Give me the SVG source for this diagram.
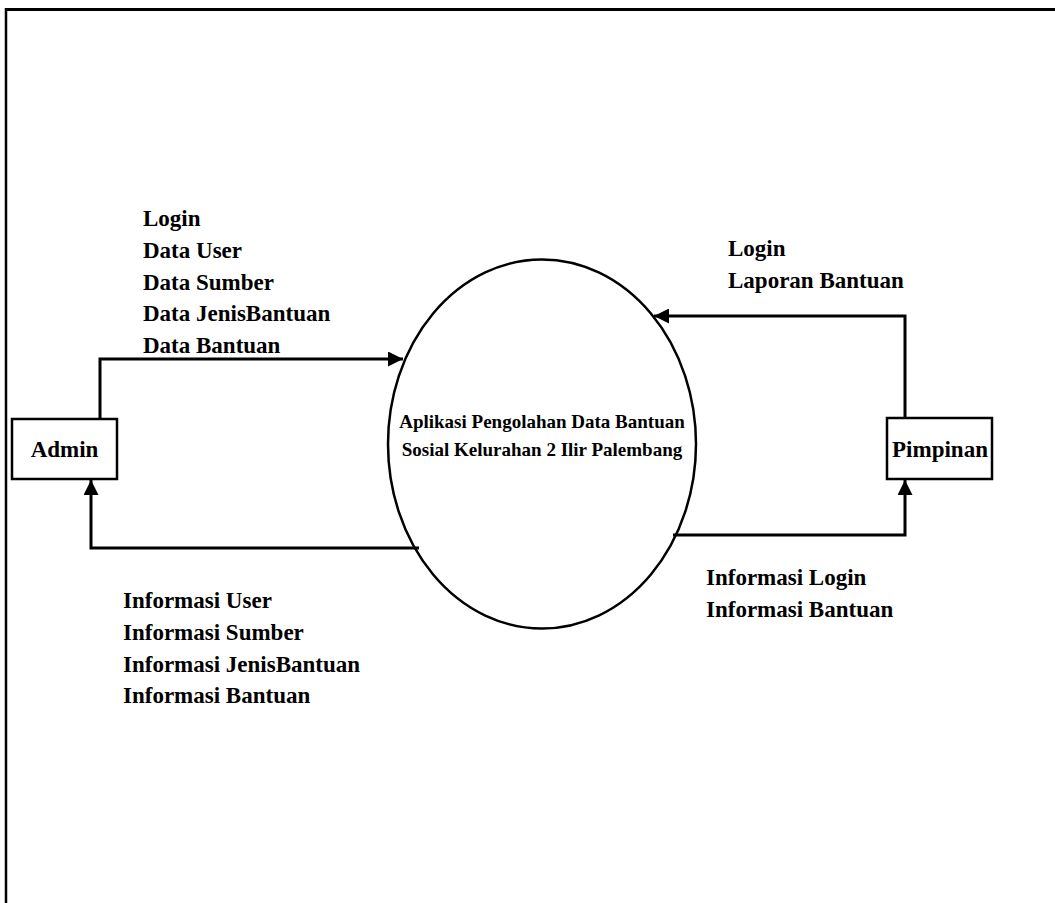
<svg xmlns="http://www.w3.org/2000/svg" width="1055" height="903" viewBox="0 0 1055 903">
<style>
.t{font-family:"Liberation Serif","Times New Roman",serif;font-weight:bold;fill:#000}
.lbl{font-size:23px}
.ctr{font-size:19px}
.box{fill:#fff;stroke:#000;stroke-width:2.5}
.con{fill:none;stroke:#000;stroke-width:3}
</style>
<defs>
<marker id="arr" viewBox="0 0 10 10" refX="10" refY="5" markerWidth="5.3" markerHeight="5" markerUnits="strokeWidth" orient="auto">
<path d="M0,0 L10,5 L0,10 z" fill="#000"/>
</marker>
</defs>
<rect width="1055" height="903" fill="#fff"/>
<g id="frame">
<line x1="6" y1="9.5" x2="1055" y2="9.5" stroke="#000" stroke-width="3"/>
<line x1="6" y1="8" x2="6" y2="903" stroke="#000" stroke-width="2.5"/>
</g>
<g id="connectors">
<polyline class="con" points="100,419 100,359 403,359" marker-end="url(#arr)"/>
<polyline class="con" points="419,548 91,548 91,480" marker-end="url(#arr)"/>
<polyline class="con" points="905,418 905,316 654,316" marker-end="url(#arr)"/>
<polyline class="con" points="673,535 905,535 905,480" marker-end="url(#arr)"/>
</g>
<g id="labels">
<text class="t lbl" x="143" y="226">Login</text>
<text class="t lbl" x="143" y="258">Data User</text>
<text class="t lbl" x="143" y="290">Data Sumber</text>
<text class="t lbl" x="143" y="321">Data JenisBantuan</text>
<text class="t lbl" x="143" y="353">Data Bantuan</text>
<text class="t lbl" x="123" y="608">Informasi User</text>
<text class="t lbl" x="123" y="640">Informasi Sumber</text>
<text class="t lbl" x="123" y="672">Informasi JenisBantuan</text>
<text class="t lbl" x="123" y="703">Informasi Bantuan</text>
<text class="t lbl" x="728" y="256">Login</text>
<text class="t lbl" x="728" y="288">Laporan Bantuan</text>
<text class="t lbl" x="706" y="585">Informasi Login</text>
<text class="t lbl" x="706" y="617">Informasi Bantuan</text>
</g>
<g id="process">
<ellipse cx="542" cy="444" rx="154" ry="184.5" fill="none" stroke="#000" stroke-width="2.5"/>
<text class="t ctr" x="542" y="428" text-anchor="middle">Aplikasi Pengolahan Data Bantuan</text>
<text class="t ctr" x="542" y="456" text-anchor="middle">Sosial Kelurahan 2 Ilir Palembang</text>
</g>
<g id="admin">
<rect class="box" x="12" y="419" width="105" height="60"/>
<text class="t lbl" x="64.5" y="457" text-anchor="middle">Admin</text>
</g>
<g id="pimpinan">
<rect class="box" x="887" y="418" width="105" height="61"/>
<text class="t lbl" x="940" y="457" text-anchor="middle">Pimpinan</text>
</g>
</svg>
